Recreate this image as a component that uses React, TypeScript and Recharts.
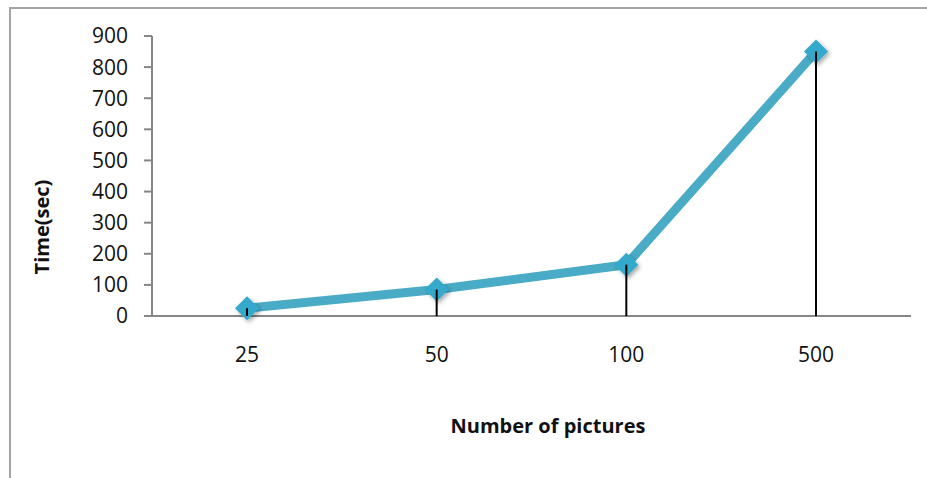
import React from 'react';
import { LineChart, Line, XAxis, YAxis, ErrorBar, Label } from 'recharts';

// Processing time per batch size
const pictureCounts = ['25', '50', '100', '500'];
const timeSec = [25, 85, 165, 850];
const timeTicks = [0, 100, 200, 300, 400, 500, 600, 700, 800, 900];

const data = pictureCounts.map((n, i) => ({
  n,
  time: timeSec[i],
  // drop line from the point down to the category axis
  drop: [timeSec[i], 0],
}));

const FONT = '"Open Sans", "DejaVu Sans", sans-serif';
const AXIS = '#868686';
const LINE = '#4AABC6';
const MARKER = '#34A9CC';

const Diamond = (props: any) => {
  const { cx, cy } = props;
  if (cx == null || cy == null) return null;
  const r = 12;
  const pts = `${cx},${cy - r} ${cx + r},${cy} ${cx},${cy + r} ${cx - r},${cy}`;
  return <polygon points={pts} fill={MARKER} filter="url(#markerShadow)" />;
};

const App: React.FC = () => {
  return (
    <div style={{ position: 'absolute', left: 0, top: 0, width: 927, height: 478, background: '#fff' }}>
      <svg width={0} height={0} style={{ position: 'absolute' }}>
        <defs>
          <filter id="markerShadow" x="-50%" y="-50%" width="200%" height="200%">
            <feDropShadow dx={2} dy={2} stdDeviation={2} floodColor="#000" floodOpacity={0.35} />
          </filter>
        </defs>
      </svg>
      <div
        style={{
          position: 'absolute',
          left: 9,
          top: 7,
          width: 940,
          height: 490,
          borderTop: '2px solid #a3a3a3',
          borderLeft: '2px solid #a3a3a3',
        }}
      />
      <LineChart
        width={927}
        height={478}
        data={data}
        margin={{ top: 36, right: 16, bottom: 0, left: 0 }}
        style={{ position: 'absolute', left: 0, top: 0 }}
      >
        <XAxis
          dataKey="n"
          height={162}
          padding={{ left: 95, right: 95 }}
          tickLine={false}
          tickSize={0}
          tickMargin={31}
          axisLine={{ stroke: AXIS, strokeWidth: 2 }}
          tick={{ fill: '#111', fontSize: 21, fontFamily: FONT }}
        >
          <Label
            content={() => (
              <text x={548} y={433} textAnchor="middle" fontFamily={FONT} fontSize={20} fontWeight="bold" fill="#111">
                Number of pictures
              </text>
            )}
          />
        </XAxis>
        <YAxis
          type="number"
          width={152}
          domain={[0, 900]}
          ticks={timeTicks}
          interval={0}
          tickSize={8}
          tickMargin={16}
          axisLine={{ stroke: AXIS, strokeWidth: 2 }}
          tickLine={{ stroke: AXIS, strokeWidth: 2 }}
          tick={{ fill: '#111', fontSize: 21, fontFamily: FONT }}
        >
          <Label
            content={() => (
              <text
                transform="translate(49,227) rotate(-90)"
                textAnchor="middle"
                fontFamily={FONT}
                fontSize={20}
                fontWeight="bold"
                fill="#111"
              >
                Time(sec)
              </text>
            )}
          />
        </YAxis>
        <Line
          type="linear"
          dataKey="time"
          stroke={LINE}
          strokeWidth={9}
          strokeLinejoin="round"
          dot={<Diamond />}
          activeDot={false}
          isAnimationActive={false}
        />
        {/* drop lines sit above the markers */}
        <Line
          type="linear"
          dataKey="time"
          stroke="none"
          dot={false}
          activeDot={false}
          legendType="none"
          isAnimationActive={false}
        >
          <ErrorBar
            dataKey="drop"
            direction="y"
            width={0}
            stroke="#000"
            strokeWidth={2}
            zIndex={700}
            isAnimationActive={false}
          />
        </Line>
      </LineChart>
    </div>
  );
};

export default App;
